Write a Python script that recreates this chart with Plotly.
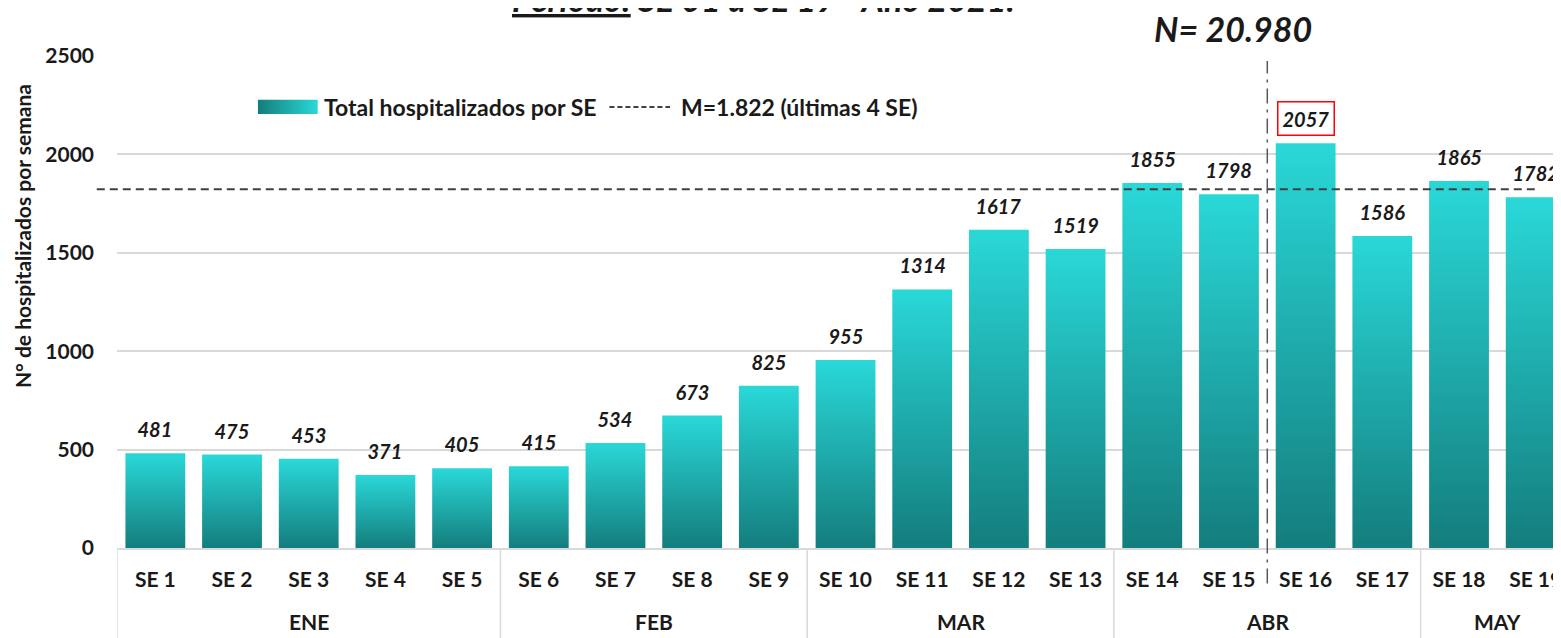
import plotly.graph_objects as go

# datos: hospitalizados por semana epidemiologica, 2021
semanas = [f"SE {i}" for i in range(1, 20)]
valores = [481, 475, 453, 371, 405, 415, 534, 673, 825, 955,
           1314, 1617, 1519, 1855, 1798, 2057, 1586, 1865, 1782]
meses = ["ENE", "FEB", "MAR", "ABR", "MAY"]
semanas_por_mes = [5, 4, 4, 4, 2]
ultimas = 4
media = sum(valores[-ultimas:]) / ultimas
total = sum(valores)
idx_max = valores.index(max(valores))

FONT = "Lato, Carlito, Open Sans, sans-serif"
TXT = "#1a1a1a"
OSCURO, CLARO = "#147d7d", "#2ad8d8"
ANCHO = 0.39
DASH = "8px,5px"

fig = go.Figure()

# barras con degradado (poligonos rellenos)
for i, v in enumerate(valores):
    fig.add_trace(go.Scatter(
        x=[i - ANCHO, i - ANCHO, i + ANCHO, i + ANCHO, i - ANCHO],
        y=[0, v, v, 0, 0],
        mode="none",
        fill="toself",
        fillgradient=dict(type="vertical", colorscale=[[0, OSCURO], [1, CLARO]]),
        showlegend=False,
        hoverinfo="skip",
    ))

# linea de media (empieza un poco a la izquierda del eje)
fig.add_shape(type="line", xref="paper", yref="y",
              x0=-0.014, x1=0.983, y0=media, y1=media,
              line=dict(color="#404040", width=2, dash=DASH))

# leyenda manual (eje superpuesto en coordenadas 0-1)
fig.add_trace(go.Scatter(
    x=[0.0976, 0.0976, 0.139, 0.139, 0.0976],
    y=[0.882, 0.911, 0.911, 0.882, 0.882],
    xaxis="x2", yaxis="y2",
    mode="none", fill="toself",
    fillgradient=dict(type="horizontal", colorscale=[[0, OSCURO], [1, CLARO]]),
    showlegend=False, hoverinfo="skip",
))
fig.add_trace(go.Scatter(
    x=[0.341, 0.383], y=[0.8965, 0.8965],
    xaxis="x2", yaxis="y2",
    mode="lines", line=dict(color="#404040", width=2, dash="5px,3px"),
    showlegend=False, hoverinfo="skip",
))
leyenda = [
    (0.142, "Total hospitalizados por SE"),
    (0.389, f"M={int(media):,} (últimas {ultimas} SE)".replace(",", ".")),
]
for xl, txt in leyenda:
    fig.add_annotation(
        x=xl, y=0.8965, xref="paper", yref="paper",
        xanchor="left", yanchor="middle",
        text=f"<b>{txt}</b>", showarrow=False,
        font=dict(family=FONT, size=23, color=TXT),
    )

# etiquetas de valores
for i, v in enumerate(valores):
    fig.add_annotation(
        x=i, y=v, xref="x", yref="y",
        text=f"<b><i>{v}</i></b>",
        showarrow=False, yanchor="bottom", yshift=7,
        font=dict(family=FONT, size=20, color=TXT),
        bordercolor="red" if i == idx_max else "rgba(0,0,0,0)",
        borderwidth=1.5, borderpad=4,
    )

# meses y separadores
inicio = 0
for mes, n in zip(meses, semanas_por_mes):
    fig.add_annotation(
        x=inicio + (n - 1) / 2, y=-0.15, xref="x", yref="paper",
        yanchor="middle",
        text=f"<b>{mes}</b>", showarrow=False,
        font=dict(family=FONT, size=21, color=TXT),
    )
    fig.add_shape(type="line", xref="x", yref="paper",
                  x0=inicio - 0.5, x1=inicio - 0.5, y0=0, y1=-0.2,
                  line=dict(color="#d9d9d9", width=1.5))
    inicio += n

# linea vertical entre SE 15 y SE 16
fig.add_shape(type="line", xref="x", yref="paper",
              x0=14.5, x1=14.5, y0=-0.072, y1=0.99,
              line=dict(color="#595959", width=1.5, dash="longdashdot"))

fig.add_annotation(
    x=14.5, y=1, xref="x", yref="paper", yanchor="middle", yshift=28,
    text=f"<b><i>N= {total:,}</i></b>".replace(",", "."),
    showarrow=False, font=dict(family=FONT, size=34, color=TXT),
    xshift=-34,
)

# titulo del eje y
fig.add_annotation(
    x=0, y=0.634, xref="paper", yref="paper", xanchor="center", yanchor="middle",
    xshift=-95, textangle=-90,
    text="<b>N° de hospitalizados por semana</b>",
    showarrow=False, font=dict(family=FONT, size=21, color=TXT),
)

# titulo (cortado arriba)
fig.add_annotation(
    x=0.448, y=1, xref="paper", yref="paper", yanchor="middle", yshift=58,
    text='<b><i><span style="text-decoration:underline">Periodo:</span> SE 01 a SE 19 - Año 2021.</i></b>',
    showarrow=False, font=dict(family=FONT, size=34, color=TXT),
)

fig.update_layout(
    width=1553, height=630,
    margin=dict(l=109, r=0, t=48, b=90),
    paper_bgcolor="white", plot_bgcolor="white",
    font=dict(family=FONT, color=TXT),
    showlegend=False,
    xaxis=dict(
        range=[-0.5, 18.33],
        tickvals=list(range(len(semanas))),
        ticktext=[f"<b>{s}</b>" for s in semanas],
        tickfont=dict(family=FONT, size=21, color=TXT),
        showgrid=False, zeroline=False,
        showline=True, linecolor="#d9d9d9", linewidth=1.5,
        ticks="", ticklabelstandoff=12, ticklabeloverflow="allow",
    ),
    yaxis=dict(
        range=[0, 2500], dtick=500,
        tickfont=dict(family=FONT, size=21, color=TXT),
        tickprefix="<b>", ticksuffix="</b>",
        showgrid=True, gridcolor="#d9d9d9", gridwidth=1.5,
        zeroline=False, showline=False, ticks="", ticklabelstandoff=22,
    ),
    xaxis2=dict(overlaying="x", range=[0, 1], visible=False),
    yaxis2=dict(overlaying="y", range=[0, 1], visible=False),
)

fig.write_html("out.html")
